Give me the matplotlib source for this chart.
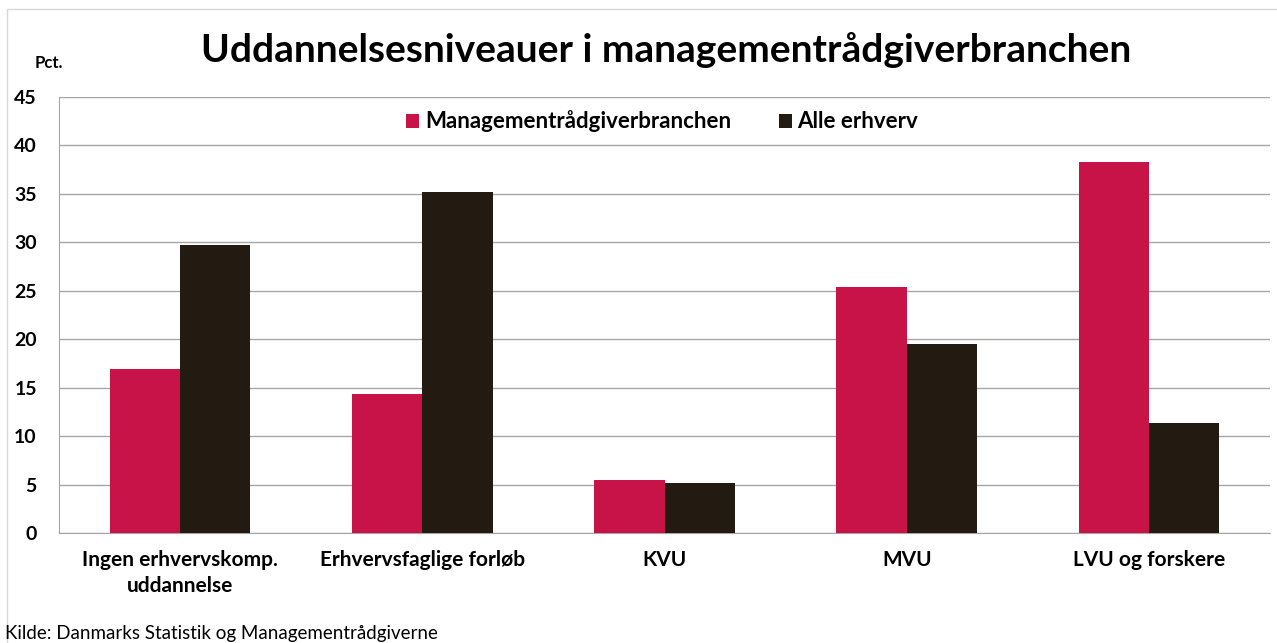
import matplotlib
matplotlib.use("Agg")
import numpy as np
from matplotlib import pyplot as plt
from matplotlib.patches import Rectangle

categories = ["Ingen erhvervskomp.\nuddannelse", "Erhvervsfaglige forløb", "KVU", "MVU", "LVU og forskere"]
mgmt = [16.9, 14.3, 5.5, 25.4, 38.3]
alle = [29.7, 35.2, 5.2, 19.5, 11.4]
series_names = ["Managementrådgiverbranchen", "Alle erhverv"]

PINK = "#C81348"
DARK = "#231A12"

plt.rcParams['font.family'] = ['Lato', 'DejaVu Sans']

dpi = 100
fig = plt.figure(figsize=(1277 / dpi, 643 / dpi), dpi=dpi)
ax = fig.add_axes([59 / 1277, 1 - 533 / 643, 1211 / 1277, 436 / 643])

xs = np.arange(len(categories))
w = 0.29
ax.bar(xs - w / 2, mgmt, w, color=PINK, label=series_names[0], zorder=3)
ax.bar(xs + w / 2, alle, w, color=DARK, label=series_names[1], zorder=3)

ax.set_xlim(-0.5, len(categories) - 0.5)
ax.set_ylim(0, 45)
ax.set_yticks(range(0, 46, 5))
ax.yaxis.grid(True, color="#A6A6A6", linewidth=1, zorder=0)
ax.tick_params(axis="y", length=0, labelsize=14, pad=16)
ax.tick_params(axis="x", length=0, labelsize=15, pad=12)
for lab in ax.get_yticklabels() + ax.get_xticklabels():
    lab.set_fontweight("bold")
ax.set_xticks(xs)
ax.set_xticklabels(categories, linespacing=1.4)
for s in ["top", "right"]:
    ax.spines[s].set_visible(False)
ax.spines["left"].set_color("#A6A6A6")
ax.spines["bottom"].set_color("#A6A6A6")

leg = ax.legend(loc="upper center", bbox_to_anchor=(0.498, 1.015), ncol=2, frameon=False,
                prop={"weight": "bold", "size": 16}, handlelength=0.6, handleheight=0.6,
                handletextpad=0.25, columnspacing=2.15)

fig.text(666 / 1277, 1 - 50 / 643, "Uddannelsesniveauer i managementrådgiverbranchen",
         ha="center", va="center", fontsize=28, fontweight="bold")
fig.text(35 / 1277, 1 - 63 / 643, "Pct.", ha="left", va="center", fontsize=12, fontweight="bold")
fig.text(5 / 1277, 1 - 633 / 643, "Kilde: Danmarks Statistik og Managementrådgiverne",
         ha="left", va="center", fontsize=13.5)

fig.patches.append(Rectangle((7 / 1277, -0.1), 1.2, 1 - 9 / 643 + 0.1, transform=fig.transFigure,
                             fill=False, edgecolor="#D9D9D9", linewidth=1))

fig.savefig("out.png", dpi=dpi)
